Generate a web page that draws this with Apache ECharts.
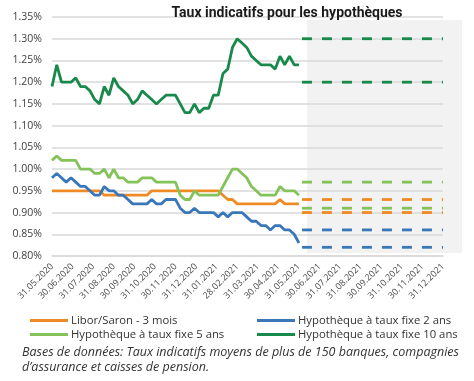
<!DOCTYPE html>
<html>
<head>
<meta charset="utf-8">
<script src="https://cdn.jsdelivr.net/npm/echarts@6/dist/echarts.min.js"></script>
<style>html,body{margin:0;padding:0;background:#fff;}#c{width:474px;height:381px;}</style>
</head>
<body>
<div id="c"></div>
<script>
// Month-end tick labels (x axis, one per month)
const monthLabels = ['31.05.2020','30.06.2020','31.07.2020','31.08.2020','30.09.2020','31.10.2020','30.11.2020','31.12.2020','31.01.2021','28.02.2021','31.03.2021','30.04.2021','31.05.2021','30.06.2021','31.07.2021','31.08.2021','30.09.2021','31.10.2021','30.11.2021','31.12.2021'];

// Weekly observations 31.05.2020 – 31.05.2021 (53 weeks), in %
const libor3m = [0.95,0.95,0.95,0.95,0.95,0.95,0.95,0.95,0.95,0.95,0.95,0.94,0.94,0.94,0.94,0.94,0.94,0.94,0.94,0.94,0.94,0.95,0.95,0.95,0.95,0.95,0.95,0.95,0.95,0.95,0.95,0.95,0.95,0.95,0.95,0.95,0.94,0.93,0.93,0.92,0.92,0.92,0.92,0.92,0.92,0.92,0.92,0.92,0.93,0.92,0.92,0.92,0.92];
const fixed2y = [0.98,0.99,0.98,0.97,0.98,0.97,0.96,0.96,0.95,0.94,0.94,0.96,0.95,0.95,0.94,0.94,0.93,0.92,0.92,0.92,0.92,0.93,0.92,0.92,0.93,0.93,0.93,0.91,0.90,0.90,0.91,0.90,0.90,0.90,0.90,0.89,0.90,0.89,0.90,0.90,0.90,0.89,0.88,0.88,0.87,0.87,0.86,0.87,0.87,0.86,0.86,0.85,0.83];
const fixed5y = [1.02,1.03,1.02,1.02,1.02,1.02,1.00,1.00,1.00,0.99,0.99,1.00,0.98,1.00,0.98,0.98,0.97,0.97,0.97,0.98,0.98,0.98,0.97,0.97,0.97,0.97,0.97,0.94,0.93,0.93,0.95,0.94,0.94,0.94,0.94,0.94,0.96,0.98,1.00,1.00,0.99,0.98,0.96,0.95,0.94,0.94,0.94,0.94,0.96,0.95,0.95,0.95,0.94];
const fixed10y = [1.19,1.24,1.20,1.20,1.20,1.21,1.19,1.19,1.18,1.16,1.15,1.19,1.17,1.21,1.19,1.18,1.17,1.15,1.16,1.18,1.17,1.16,1.15,1.16,1.17,1.17,1.17,1.15,1.13,1.13,1.15,1.13,1.14,1.14,1.17,1.17,1.22,1.23,1.28,1.30,1.29,1.28,1.26,1.25,1.24,1.24,1.24,1.23,1.26,1.24,1.26,1.24,1.24];

// Forecast ranges to 31.12.2021 (low, high), in %
const fcLibor = [0.90, 0.93];
const fc2y = [0.82, 0.86];
const fc5y = [0.91, 0.97];
const fc10y = [1.20, 1.30];

const yTicks = {min: 0.80, max: 1.35, step: 0.05};
const names = ['Libor/Saron - 3 mois','Hypothèque à taux fixe 2 ans','Hypothèque à taux fixe 5 ans','Hypothèque à taux fixe 10 ans'];
const colors = ['#EE8B24','#3A77B8','#84C25A','#17894A'];

const histMonths = 12; // weekly data spans index 0..12 on month axis
const fcStart = 12, fcEnd = monthLabels.length - 1;
function weekly(arr){ return arr.map((v,i)=>[i*histMonths/(arr.length-1), v]); }

const series = [];
[libor3m, fixed2y, fixed5y, fixed10y].forEach((arr,k)=>{
  series.push({name:names[k], type:'line', data:weekly(arr), symbol:'none', lineStyle:{width:2.8,color:colors[k]}, itemStyle:{color:colors[k]}, z:3});
});
[fcLibor, fc2y, fc5y, fc10y].forEach((pair,k)=>{
  pair.forEach(v=>{
    series.push({name:names[k], type:'line', data:[[fcStart,v],[fcEnd,v]], symbol:'none', silent:true,
      lineStyle:{width:2.8,color:colors[k],type:[10,10],dashOffset:17}, itemStyle:{color:colors[k]}, z:3});
  });
});

const chart = echarts.init(document.getElementById('c'), null, {renderer:'canvas'});
const FONT = 'Open Sans';
chart.setOption({
  animation:false,
  backgroundColor:'transparent',
  title:{text:'Taux indicatifs pour les hypothèques', left:282, textAlign:'center', top:1,
    textStyle:{fontFamily:'Roboto', fontWeight:'bold', fontSize:14, color:'#1a1a1a'}},
  grid:{left:52, right:31, top:17, bottom:125},
  xAxis:{type:'value', min:0, max:fcEnd, interval:1,
    axisLine:{show:true, lineStyle:{color:'#d9d9d9', width:1.5}}, axisTick:{show:false}, splitLine:{show:false},
    axisLabel:{rotate:45, fontSize:9, fontFamily:FONT, color:'#4a4a4a', margin:9,
      formatter:(v)=>monthLabels[Math.round(v)] || ''}},
  yAxis:{type:'value', min:yTicks.min, max:yTicks.max, interval:yTicks.step,
    axisLine:{show:false}, axisTick:{show:false},
    splitLine:{lineStyle:{color:'#d9d9d9', width:1.5}},
    axisLabel:{fontSize:10.5, fontFamily:FONT, color:'#404040', margin:10,
      formatter:(v)=>v.toFixed(2)+'%'}},
  legend:[
    {orient:'vertical', left:25, top:310, itemWidth:38, itemHeight:3, itemGap:3, icon:'rect',
     data:[names[0], names[2]], textStyle:{fontFamily:FONT, fontSize:11.3, color:'#333', padding:[0,0,0,-2]}},
    {orient:'vertical', left:252, top:310, itemWidth:38, itemHeight:3, itemGap:3, icon:'rect',
     data:[names[1], names[3]], textStyle:{fontFamily:FONT, fontSize:11.3, color:'#333', padding:[0,0,0,-2]}}
  ],
  graphic:[
    {type:'rect', zlevel:-1, z:-10, silent:true, shape:{x:307, y:20, width:155, height:233}, style:{fill:'#f2f2f2'}},
    {type:'text', left:22, top:345, style:{text:'Bases de données: Taux indicatifs moyens de plus de 150 banques, compagnies\nd’assurance et caisses de pension.',
      font:'italic 12.5px "Open Sans"', fill:'#333', lineHeight:15}}
  ],
  series:series
});
</script>
</body>
</html>
